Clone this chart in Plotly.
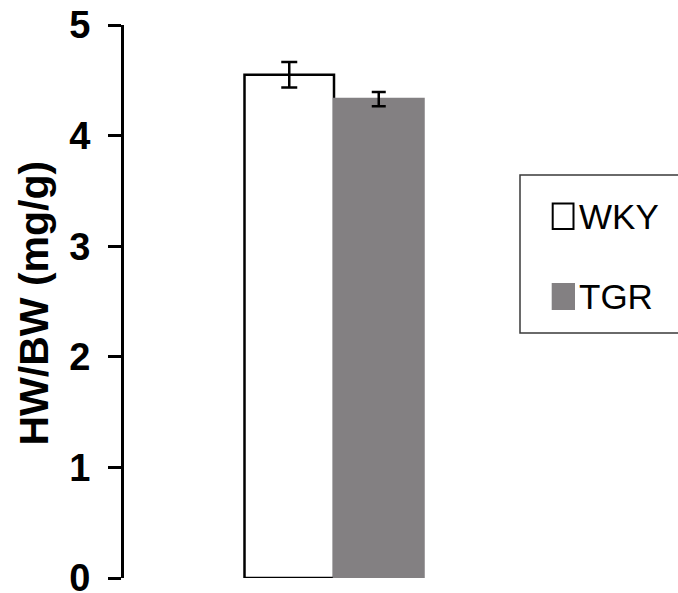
import plotly.graph_objects as go

groups = ["WKY", "TGR"]
means = [4.55, 4.33]
errors = [0.115, 0.065]
fills = ["white", "rgb(131,128,130)"]
outlines = ["black", "rgb(131,128,130)"]
caps = [8, 7]
ytick_vals = [0, 1, 2, 3, 4, 5]
y_title = "HW/BW (mg/g)"

FONT = "Liberation Sans, Arial, sans-serif"

fig = go.Figure()
for name, m, e, f, o, c in zip(groups, means, errors, fills, outlines, caps):
    fig.add_trace(go.Bar(
        x=["HW/BW"], y=[m], name=name,
        marker=dict(color=f, line=dict(color=o, width=2.5)),
        error_y=dict(type="data", array=[e], color="black", thickness=2.5, width=c),
    ))

# plot area: x 124..500 px, y 25..578 px
def px(x):
    return (x - 124) / 376.0

def py(y):
    return (578 - y) / 553.0

shapes = [
    dict(type="rect", xref="paper", yref="paper",
         x0=px(520), x1=px(700), y0=py(333), y1=py(175),
         line=dict(color="#3a3a3a", width=1.5), fillcolor="rgba(0,0,0,0)"),
]
legend_rows = [(216, 552.7, 573.5, 203.5, 229), (296.5, 552.7, 574, 284, 309)]
annotations = [
    dict(xref="paper", yref="paper", x=px(33.5), y=py(303), textangle=-90,
         xanchor="center", yanchor="middle", showarrow=False, text=y_title,
         font=dict(size=41, family=FONT, color="black", weight="bold")),
]
for (name, f, o, (ty, sx0, sx1, sy0, sy1)) in zip(groups, fills, ["black", fills[1]], legend_rows):
    shapes.append(dict(type="rect", xref="paper", yref="paper",
                       x0=px(sx0), x1=px(sx1), y0=py(sy1), y1=py(sy0),
                       line=dict(color=o, width=2), fillcolor=f))
    annotations.append(dict(xref="paper", yref="paper", x=px(sx1 + 3), y=py(ty),
                            xanchor="left", yanchor="middle", showarrow=False,
                            text=name, font=dict(size=35, family=FONT, color="black")))

fig.update_layout(
    width=678, height=593,
    margin=dict(l=124, r=178, t=25, b=15),
    paper_bgcolor="white", plot_bgcolor="white",
    barmode="group", bargap=0.5, bargroupgap=0,
    font=dict(family=FONT, color="black"),
    showlegend=False,
    shapes=shapes,
    annotations=annotations,
)
fig.update_xaxes(
    range=[-0.5866, 0.4637], showticklabels=False, showline=False,
    showgrid=False, zeroline=False, ticks="", automargin=False,
)
fig.update_yaxes(
    range=[0, 5], tickvals=ytick_vals, automargin=False,
    ticks="outside", ticklen=13, tickwidth=3, tickcolor="black",
    showline=True, linewidth=3, linecolor="black",
    showgrid=False, zeroline=False,
    tickfont=dict(size=38, family=FONT, weight="bold"),
    ticklabelstandoff=10, ticklabeloverflow="allow",
)

fig.write_html("out.html")
